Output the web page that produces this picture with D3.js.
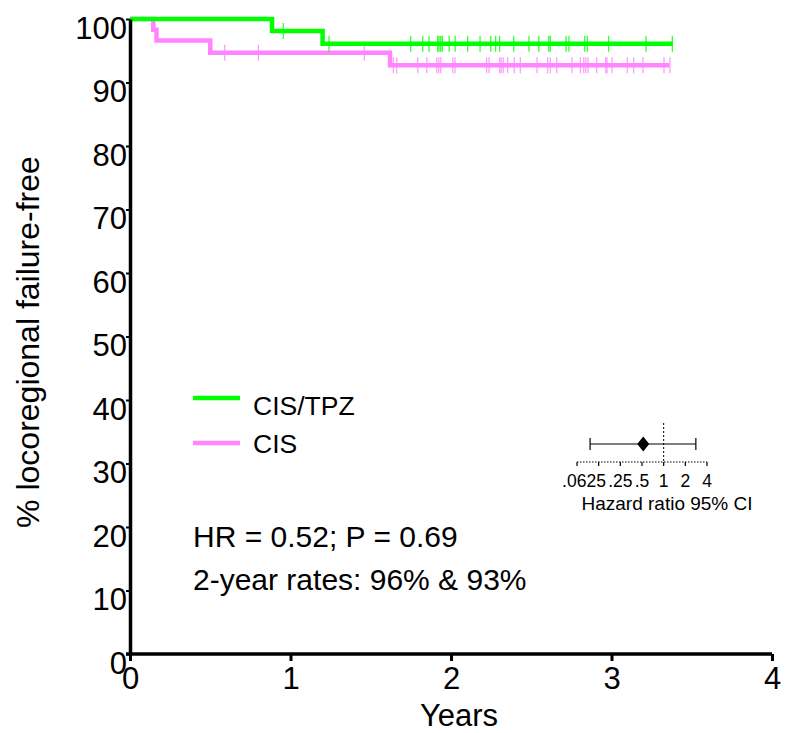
<!DOCTYPE html>
<html>
<head>
<meta charset="utf-8">
<script src="https://cdn.jsdelivr.net/npm/d3@7"></script>
<style>
  html, body { margin: 0; padding: 0; background: #fff; }
  svg { display: block; font-family: "Liberation Sans", Arial, Helvetica, sans-serif; }
</style>
</head>
<body>
<svg id="chart" width="785" height="733"></svg>
<script>
// ---------------- data ----------------
const xTicks = [0, 1, 2, 3, 4];
const yTicks = [0, 10, 20, 30, 40, 50, 60, 70, 80, 90, 100];

const groups = ["CIS/TPZ", "CIS"];
const groupColors = ["#00ff00", "#ff85ff"];

// Kaplan-Meier steps: event times (years) and survival (%) after each event
const tpzEventTimes = [0.885, 1.20];
const tpzEventSurv  = [98.1, 96.1];
const tpzEnd = 3.38;
const tpzCensor = [0.955, 1.24, 1.749, 1.824, 1.863, 1.917, 1.925, 1.936, 1.946, 1.989, 2.026,
  2.104, 2.181, 2.247, 2.278, 2.303, 2.391, 2.486, 2.547, 2.609, 2.619, 2.717, 2.735, 2.833,
  2.849, 2.982, 3.215, 3.379];

const cisEventTimes = [0.145, 0.165, 0.50, 1.62];
const cisEventSurv  = [98.3, 96.6, 94.7, 92.7];
const cisEnd = 3.36;
const cisCensor = [0.59, 0.80, 1.46, 1.641, 1.662, 1.793, 1.849, 1.911, 1.924, 1.936, 2.011,
  2.025, 2.222, 2.237, 2.303, 2.313, 2.326, 2.353, 2.394, 2.432, 2.536, 2.602, 2.619, 2.659,
  2.754, 2.806, 2.827, 2.840, 2.854, 2.908, 2.964, 2.972, 3.003, 3.098, 3.138, 3.196, 3.327, 3.364];

const annotations = ["HR = 0.52; P = 0.69", "2-year rates: 96% & 93%"];

// Forest inset
const hr = 0.52, hrLow = 0.095, hrHigh = 2.8;
const hrTickValues = [0.0625, 0.125, 0.25, 0.5, 1, 2, 4];
const hrTickLabels = [".0625", ".25", ".5", "1", "2", "4"];
const hrLabelValues = [0.0625, 0.25, 0.5, 1, 2, 4];

// ---------------- drawing ----------------
const svg = d3.select("#chart");
const x = d3.scaleLinear().domain([0, 4]).range([130, 772]);
const y = d3.scaleLinear().domain([0, 100]).range([654, 19]);

function kmData(times, surv, end) {
  const d = [{t: 0, s: 100}];
  times.forEach((t, i) => d.push({t: t, s: surv[i]}));
  d.push({t: end, s: surv[surv.length - 1]});
  return d;
}
function survAt(times, surv, t) {
  let s = 100;
  times.forEach((et, i) => { if (et <= t) s = surv[i]; });
  return s;
}

const line = d3.line().x(d => x(d.t)).y(d => y(d.s)).curve(d3.curveStepAfter);

const series = [
  {times: cisEventTimes, surv: cisEventSurv, end: cisEnd, censor: cisCensor, color: groupColors[1]},
  {times: tpzEventTimes, surv: tpzEventSurv, end: tpzEnd, censor: tpzCensor, color: groupColors[0]}
];

series.forEach(sr => {
  svg.append("path")
    .datum(kmData(sr.times, sr.surv, sr.end))
    .attr("d", line)
    .attr("fill", "none")
    .attr("stroke", sr.color)
    .attr("stroke-width", 4.5);
  svg.append("g").selectAll("line")
    .data(sr.censor)
    .join("line")
    .attr("x1", d => x(d)).attr("x2", d => x(d))
    .attr("y1", d => y(survAt(sr.times, sr.surv, d)) - 8)
    .attr("y2", d => y(survAt(sr.times, sr.surv, d)) + 8)
    .attr("stroke", sr.color)
    .attr("stroke-opacity", 0.8)
    .attr("stroke-width", 1.3);
});

// Axes
const xAxis = svg.append("g")
  .attr("transform", "translate(0,654)")
  .call(d3.axisBottom(x).tickValues(xTicks).tickFormat(d3.format("d")).tickSizeInner(7).tickSizeOuter(0).tickPadding(6));
xAxis.select(".domain").attr("stroke-width", 3.5).attr("d", "M126,0H772");
xAxis.selectAll(".tick line").attr("stroke-width", 3);
xAxis.selectAll(".tick text").attr("font-size", 31).attr("fill", "#000").attr("font-family", "Liberation Sans, Arial, sans-serif");

const yAxis = svg.append("g")
  .attr("transform", "translate(130,0)")
  .call(d3.axisLeft(y).tickValues(yTicks).tickFormat(d3.format("d")).tickSizeInner(4).tickSizeOuter(0).tickPadding(-1));
yAxis.select(".domain").attr("stroke-width", 3.5);
yAxis.selectAll(".tick line").attr("stroke-width", 2);
yAxis.selectAll(".tick text").attr("font-size", 31).attr("fill", "#000")
  .attr("dy", "0.62em").attr("font-family", "Liberation Sans, Arial, sans-serif");

// Axis titles
svg.append("text")
  .attr("x", 459).attr("y", 726)
  .attr("text-anchor", "middle")
  .attr("font-size", 31)
  .text("Years");
svg.append("text")
  .attr("transform", "translate(39,342) rotate(-90)")
  .attr("text-anchor", "middle")
  .attr("font-size", 32)
  .text("% locoregional failure-free");

// Legend
const legendY = [398, 443];
const legendTextY = [415, 453];
groups.forEach((g, i) => {
  svg.append("line")
    .attr("x1", 193).attr("x2", 240)
    .attr("y1", legendY[i]).attr("y2", legendY[i])
    .attr("stroke", groupColors[i]).attr("stroke-width", 4.5);
  svg.append("text")
    .attr("x", 253).attr("y", legendTextY[i])
    .attr("font-size", 26.5)
    .text(g);
});

// Annotations
annotations.forEach((a, i) => {
  svg.append("text")
    .attr("x", 193).attr("y", [547, 590][i])
    .attr("font-size", 30)
    .text(a);
});

// Forest inset
const hx = d3.scaleLog().base(2).domain([0.0625, 4]).range([577, 707]);
const ciY = 444, faY = 462;
svg.append("line")
  .attr("x1", hx(1)).attr("x2", hx(1)).attr("y1", 423).attr("y2", faY)
  .attr("stroke", "#000").attr("stroke-width", 1).attr("stroke-dasharray", "2,2");
svg.append("line")
  .attr("x1", hx.range()[0]).attr("x2", hx.range()[1]).attr("y1", faY).attr("y2", faY)
  .attr("stroke", "#000").attr("stroke-width", 1.2).attr("stroke-dasharray", "1.5,1.5");
svg.append("g").selectAll("line").data(hrTickValues).join("line")
  .attr("x1", d => hx(d)).attr("x2", d => hx(d)).attr("y1", faY).attr("y2", faY + 4)
  .attr("stroke", "#000").attr("stroke-width", 1.2);
svg.append("g").selectAll("text").data(hrLabelValues).join("text")
  .attr("x", (d, i) => hx(d) + (i === 0 ? 7 : 0))
  .attr("y", 487)
  .attr("text-anchor", "middle")
  .attr("font-size", 17.5)
  .text((d, i) => hrTickLabels[i]);
svg.append("text")
  .attr("x", 667).attr("y", 510)
  .attr("text-anchor", "middle")
  .attr("font-size", 19)
  .text("Hazard ratio 95% CI");
svg.append("line")
  .attr("x1", hx(hrLow)).attr("x2", hx(hrHigh)).attr("y1", ciY).attr("y2", ciY)
  .attr("stroke", "#000").attr("stroke-width", 1.2);
[hrLow, hrHigh].forEach(v => {
  svg.append("line")
    .attr("x1", hx(v)).attr("x2", hx(v)).attr("y1", ciY - 6).attr("y2", ciY + 6)
    .attr("stroke", "#000").attr("stroke-width", 1.2);
});
const dx = hx(hr);
svg.append("path")
  .attr("d", `M${dx},${ciY - 7.5}L${dx + 6},${ciY}L${dx},${ciY + 7.5}L${dx - 6},${ciY}Z`)
  .attr("fill", "#000");
</script>
</body>
</html>
